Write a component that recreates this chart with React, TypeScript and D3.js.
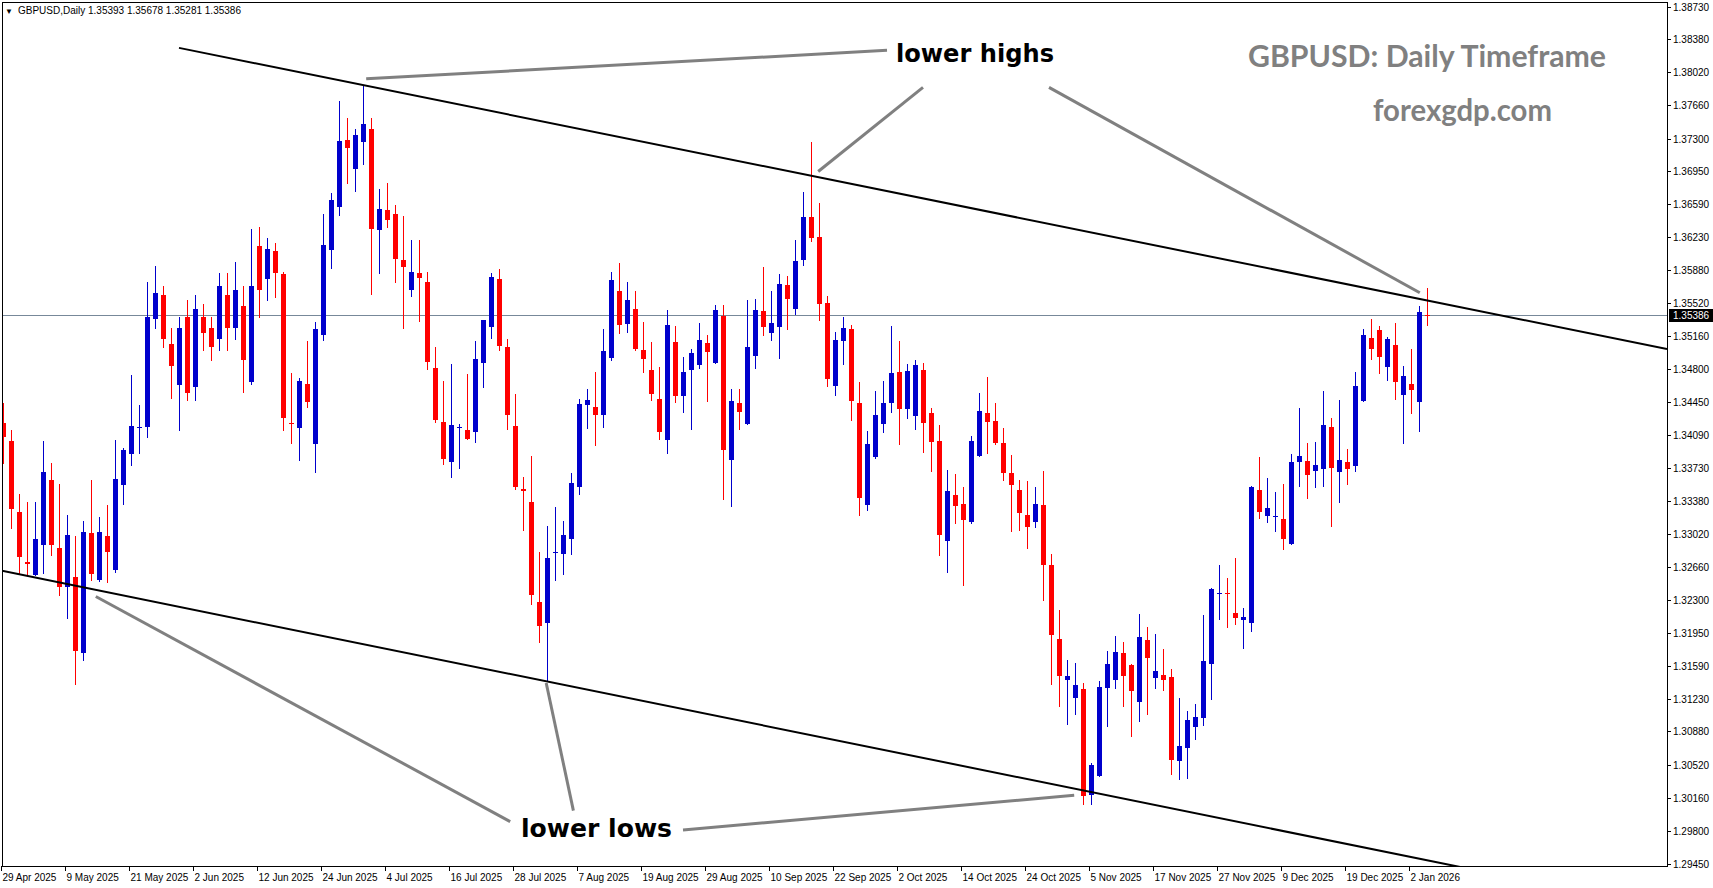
import * as d3 from "d3"

// daily GBPUSD bars, 29 Apr 2025 .. 6 Jan 2026
const opens = [
  1.3422, 1.34025, 1.33256, 1.32714, 1.32574, 1.32902, 1.33603, 1.32867, 1.32441, 1.32552,
  1.31733, 1.33029, 1.3252, 1.32996, 1.32628, 1.33552, 1.33887, 1.3417, 1.3418, 1.35346,
  1.35606, 1.35075, 1.34631, 1.35367, 1.34613, 1.35367, 1.35248, 1.35129, 1.35606, 1.35248,
  1.35487, 1.34664, 1.36136, 1.35779, 1.36082, 1.35833, 1.3422, 1.34169, 1.34642, 1.33996,
  1.35176, 1.36096, 1.36562, 1.37284, 1.36973, 1.37266, 1.37403, 1.36313, 1.36526, 1.36483,
  1.35985, 1.35663, 1.35844, 1.35747, 1.34815, 1.34231, 1.33801, 1.34171, 1.34144, 1.34126,
  1.34873, 1.35264, 1.35779, 1.35043, 1.34187, 1.33505, 1.33364, 1.32282, 1.32057, 1.32818,
  1.32805, 1.32967, 1.3353, 1.34418, 1.34393, 1.3431, 1.34924, 1.35649, 1.35292, 1.35454,
  1.3501, 1.34794, 1.3448, 1.34036, 1.35097, 1.34515, 1.34797, 1.34848, 1.35086, 1.34873,
  1.35378, 1.33822, 1.34436, 1.34212, 1.34949, 1.35432, 1.35197, 1.35262, 1.35714, 1.35457,
  1.35988, 1.3645, 1.36234, 1.35519, 1.34624, 1.35111, 1.35238, 1.34436, 1.33335, 1.33855,
  1.34212, 1.3444, 1.34772, 1.34375, 1.34299, 1.34794, 1.34328, 1.34025, 1.32945, 1.3344,
  1.33343, 1.33151, 1.33866, 1.34328, 1.34241, 1.34003, 1.33678, 1.33497, 1.33224, 1.33151,
  1.33332, 1.32682, 1.31881, 1.3144, 1.31245, 1.3134, 1.30195, 1.30401, 1.31353, 1.3144,
  1.31729, 1.31599, 1.31202, 1.3187, 1.31462, 1.31491, 1.31469, 1.30563, 1.30704, 1.30931,
  1.31029, 1.31613, 1.32374, 1.32374, 1.32162, 1.3209, 1.32057, 1.33494, 1.33216, 1.33207,
  1.3318, 1.32913, 1.33801, 1.33808, 1.33703, 1.33725, 1.34176, 1.33692, 1.33797, 1.33757,
  1.34461, 1.3514, 1.35227, 1.34829, 1.35064, 1.3452, 1.34642, 1.3445, 1.35393,
]
const highs = [
  1.34437, 1.34144, 1.33451, 1.33364, 1.33364, 1.34025, 1.33787, 1.33559, 1.33224, 1.32996,
  1.33158, 1.33603, 1.33202, 1.33332, 1.34036, 1.33949, 1.3474, 1.34415, 1.35747, 1.35925,
  1.35703, 1.35248, 1.35367, 1.35552, 1.35606, 1.35508, 1.35367, 1.35844, 1.35844, 1.35963,
  1.35703, 1.3632, 1.36342, 1.36223, 1.36169, 1.35855, 1.34762, 1.34707, 1.35108, 1.35313,
  1.36483, 1.3671, 1.37706, 1.37522, 1.37403, 1.37869, 1.37522, 1.36754, 1.36818, 1.3658,
  1.36461, 1.36201, 1.36201, 1.35855, 1.35043, 1.34675, 1.34859, 1.34209, 1.3475, 1.35108,
  1.3534, 1.35844, 1.35887, 1.35129, 1.34534, 1.33635, 1.33862, 1.32826, 1.33104, 1.3331,
  1.33158, 1.33678, 1.3448, 1.34588, 1.34772, 1.35238, 1.35855, 1.35952, 1.35747, 1.35649,
  1.35313, 1.35097, 1.34826, 1.35443, 1.3527, 1.34934, 1.35021, 1.35302, 1.35173, 1.35497,
  1.35497, 1.34588, 1.34588, 1.35552, 1.35562, 1.35909, 1.35649, 1.35833, 1.35811, 1.36201,
  1.36721, 1.37262, 1.36602, 1.35595, 1.35205, 1.35367, 1.35281, 1.34664, 1.34133, 1.34566,
  1.34678, 1.3527, 1.35111, 1.34859, 1.34902, 1.34869, 1.34382, 1.34198, 1.33711, 1.33668,
  1.33527, 1.34079, 1.34545, 1.34718, 1.34436, 1.34166, 1.33873, 1.33603, 1.33595, 1.33527,
  1.33703, 1.32801, 1.32195, 1.31653, 1.31621, 1.31408, 1.30538, 1.31426, 1.31751, 1.31913,
  1.31848, 1.31605, 1.32152, 1.32011, 1.31935, 1.31773, 1.31556, 1.31242, 1.31105, 1.3118,
  1.32141, 1.32433, 1.32682, 1.32541, 1.32758, 1.3222, 1.33541, 1.33851, 1.33627, 1.33473,
  1.33559, 1.33884, 1.34382, 1.34003, 1.34014, 1.34566, 1.34274, 1.34469, 1.33938, 1.34772,
  1.35238, 1.35346, 1.3527, 1.35151, 1.35303, 1.34837, 1.35021, 1.35487, 1.35678,
]
const lows = [
  1.33787, 1.33086, 1.32599, 1.32574, 1.3257, 1.32599, 1.32794, 1.3236, 1.32112, 1.3139,
  1.31657, 1.3252, 1.32509, 1.32502, 1.3261, 1.33343, 1.33768, 1.33898, 1.34071, 1.35248,
  1.35043, 1.34494, 1.34144, 1.34469, 1.34469, 1.3501, 1.34902, 1.3501, 1.3501, 1.35129,
  1.34555, 1.34642, 1.35367, 1.35552, 1.35584, 1.34144, 1.34003, 1.33819, 1.34396, 1.33693,
  1.35122, 1.35901, 1.36475, 1.36822, 1.36735, 1.37027, 1.3562, 1.35847, 1.36345, 1.3575,
  1.35252, 1.35598, 1.35327, 1.34808, 1.34234, 1.33779, 1.33638, 1.33736, 1.34048, 1.34017,
  1.34613, 1.35143, 1.35013, 1.34155, 1.33508, 1.33064, 1.32263, 1.31852, 1.31437, 1.32523,
  1.32588, 1.32805, 1.33454, 1.34169, 1.33985, 1.3418, 1.34902, 1.35194, 1.35205, 1.3501,
  1.34772, 1.34469, 1.34047, 1.33895, 1.3445, 1.34342, 1.34158, 1.34819, 1.34458, 1.3487,
  1.334, 1.33321, 1.34158, 1.34208, 1.34819, 1.35176, 1.35122, 1.34927, 1.35241, 1.35403,
  1.35934, 1.36194, 1.35338, 1.34624, 1.34526, 1.34862, 1.34256, 1.33227, 1.33281, 1.33844,
  1.34126, 1.34342, 1.33996, 1.34277, 1.34158, 1.33909, 1.33703, 1.32794, 1.3261, 1.3314,
  1.32466, 1.3314, 1.33866, 1.33898, 1.33996, 1.33606, 1.33054, 1.33064, 1.3287, 1.33097,
  1.32303, 1.31397, 1.31159, 1.30964, 1.31072, 1.30098, 1.30098, 1.30399, 1.30942, 1.31353,
  1.31159, 1.30834, 1.30996, 1.31072, 1.31353, 1.31332, 1.30422, 1.30368, 1.30379, 1.30801,
  1.30953, 1.31235, 1.32098, 1.32012, 1.32047, 1.31787, 1.31971, 1.33194, 1.33151, 1.33054,
  1.32859, 1.32911, 1.33541, 1.33411, 1.3353, 1.33541, 1.33108, 1.33368, 1.33562, 1.33703,
  1.3446, 1.34916, 1.34764, 1.34689, 1.34483, 1.34006, 1.34331, 1.34136, 1.35281,
]
const closes = [
  1.34068, 1.33292, 1.32773, 1.32696, 1.32964, 1.33689, 1.32902, 1.32441, 1.33007, 1.31754,
  1.33039, 1.32588, 1.33039, 1.32826, 1.33613, 1.33927, 1.34187, 1.34178, 1.35368, 1.35628,
  1.35129, 1.34837, 1.35248, 1.34548, 1.35454, 1.35194, 1.35043, 1.35703, 1.35248, 1.3566,
  1.34902, 1.35703, 1.3566, 1.36104, 1.35844, 1.34277, 1.34204, 1.34675, 1.3445, 1.35234,
  1.36147, 1.36634, 1.37273, 1.37201, 1.37338, 1.37457, 1.36324, 1.36537, 1.36421, 1.35999,
  1.35912, 1.35855, 1.35793, 1.34884, 1.34256, 1.33833, 1.34198, 1.34182, 1.3405, 1.34913,
  1.35335, 1.35801, 1.35057, 1.3431, 1.33527, 1.33489, 1.32361, 1.32025, 1.32758, 1.32828,
  1.33007, 1.3357, 1.34426, 1.34469, 1.3431, 1.35, 1.35768, 1.35281, 1.35552, 1.35021,
  1.34913, 1.34534, 1.34126, 1.35281, 1.34515, 1.34772, 1.34978, 1.35118, 1.34989, 1.35443,
  1.33927, 1.34458, 1.34342, 1.35043, 1.35443, 1.35262, 1.35303, 1.35725, 1.35566, 1.35974,
  1.3645, 1.36226, 1.35512, 1.347, 1.35118, 1.35248, 1.34461, 1.33411, 1.33992, 1.34307,
  1.34436, 1.34761, 1.34375, 1.34783, 1.34848, 1.34223, 1.34017, 1.3301, 1.33484, 1.33324,
  1.33173, 1.34025, 1.3435, 1.34234, 1.34007, 1.33682, 1.33552, 1.33248, 1.33097, 1.33343,
  1.32685, 1.31927, 1.31484, 1.3148, 1.31383, 1.30184, 1.30517, 1.31361, 1.3161, 1.3174,
  1.31484, 1.31321, 1.31903, 1.31679, 1.31534, 1.3144, 1.30574, 1.30722, 1.31004, 1.31036,
  1.31643, 1.32422, 1.32384, 1.32363, 1.32112, 1.32119, 1.3353, 1.33259, 1.33299, 1.33218,
  1.32967, 1.33797, 1.33862, 1.3366, 1.33765, 1.34198, 1.33736, 1.33819, 1.33725, 1.3462,
  1.35173, 1.35024, 1.34938, 1.35129, 1.34667, 1.34729, 1.3458, 1.35422, 1.35386,
]

const dateLabels = [
  "29 Apr 2025", "9 May 2025", "21 May 2025", "2 Jun 2025", "12 Jun 2025", "24 Jun 2025",
  "4 Jul 2025", "16 Jul 2025", "28 Jul 2025", "7 Aug 2025", "19 Aug 2025", "29 Aug 2025",
  "10 Sep 2025", "22 Sep 2025", "2 Oct 2025", "14 Oct 2025", "24 Oct 2025", "5 Nov 2025",
  "17 Nov 2025", "27 Nov 2025", "9 Dec 2025", "19 Dec 2025", "2 Jan 2026",
]
const barsPerLabel = 8

const priceTicks = [
  1.3873, 1.3838, 1.3802, 1.3766, 1.373, 1.3695, 1.3659, 1.3623, 1.3588, 1.3552,
  1.3516, 1.348, 1.3445, 1.3409, 1.3373, 1.3338, 1.3302, 1.3266, 1.323, 1.3195,
  1.3159, 1.3123, 1.3088, 1.3052, 1.3016, 1.298, 1.2945,
]
const lastPrice = 1.35386

// channel lines, [bar, price]
const channelTop = [[22, 1.38282], [200, 1.35162]]
const channelBottom = [[0, 1.32617], [180, 1.2945]]

// pointer lines for the notes, [bar, price] pairs
const highPointers = [
  [[45.4, 1.37948], [110.5, 1.38255]],
  [[115, 1.37854], [101.9, 1.36943]],
  [[130.75, 1.37854], [177.1, 1.3563]],
]
const lowPointers = [
  [[11.6, 1.32341], [63.4, 1.29904]],
  [[67.9, 1.31405], [71.3, 1.30023]],
  [[85, 1.29813], [133.9, 1.30189]],
]

export default function App() {
  const width = 1713
  const height = 888
  const plotLeft = 2
  const plotRight = 1667
  const plotTop = 2
  const plotBottom = 866

  const x = d3.scaleLinear().domain([0, 1]).range([3, 11])
  const y = d3.scaleLinear().domain([1.2945, 1.3873]).range([863.5, 6.5])

  const bars = opens.map((o, i) => ({ o, h: highs[i], l: lows[i], c: closes[i], i }))
  const blue = "#0000cc"
  const red = "#ff0000"

  const lineAt = (pts: number[][], px: number) => {
    const [a, b] = pts
    const x0 = x(a[0]), y0 = y(a[1]), x1 = x(b[0]), y1 = y(b[1])
    return y0 + ((px - x0) * (y1 - y0)) / (x1 - x0)
  }

  const axisFont = "'Liberation Sans', Tahoma, Arial, sans-serif"
  const noteFont = "'DejaVu Sans', Verdana, sans-serif"

  return (
    <svg
      width={width}
      height={height}
      style={{ position: "absolute", left: 0, top: 0, background: "#fff" }}
    >
      <defs>
        <clipPath id="plot">
          <rect x={plotLeft} y={plotTop} width={plotRight - plotLeft} height={plotBottom - plotTop} />
        </clipPath>
      </defs>

      <g clipPath="url(#plot)">
        <line
          x1={plotLeft}
          x2={plotRight}
          y1={Math.round(y(lastPrice)) + 0.5}
          y2={Math.round(y(lastPrice)) + 0.5}
          stroke="#778899"
          strokeWidth={1}
        />

        <g shapeRendering="crispEdges">
          {bars.map((d) => {
            const cx = Math.round(x(d.i))
            const up = d.c >= d.o
            const col = up ? blue : red
            const top = Math.round(y(Math.max(d.o, d.c)))
            const bot = Math.round(y(Math.min(d.o, d.c)))
            const hy = Math.round(y(d.h))
            const ly = Math.round(y(d.l))
            return (
              <g key={d.i}>
                <rect x={cx} y={hy} width={1} height={Math.max(1, ly - hy + 1)} fill={col} />
                <rect x={cx - 2} y={top} width={5} height={Math.max(1, bot - top)} fill={col} />
              </g>
            )
          })}
        </g>

        <line
          x1={x(channelTop[0][0])}
          y1={y(channelTop[0][1])}
          x2={plotRight}
          y2={lineAt(channelTop, plotRight)}
          stroke="#000"
          strokeWidth={2}
        />
        <line
          x1={plotLeft}
          y1={lineAt(channelBottom, plotLeft)}
          x2={plotRight}
          y2={lineAt(channelBottom, plotRight)}
          stroke="#000"
          strokeWidth={2}
        />

        {[...highPointers, ...lowPointers].map((p, i) => (
          <line
            key={i}
            x1={x(p[0][0])}
            y1={y(p[0][1])}
            x2={x(p[1][0])}
            y2={y(p[1][1])}
            stroke="#808080"
            strokeWidth={3}
          />
        ))}
      </g>

      {/* frame and axes */}
      <g shapeRendering="crispEdges" stroke="#000" strokeWidth={1}>
        <line x1={plotLeft + 0.5} x2={plotLeft + 0.5} y1={plotTop} y2={plotBottom} />
        <line x1={plotLeft} x2={plotRight} y1={plotTop + 0.5} y2={plotTop + 0.5} />
        <line x1={plotRight + 0.5} x2={plotRight + 0.5} y1={plotTop} y2={plotBottom + 1} />
        <line x1={plotLeft} x2={plotRight + 1} y1={plotBottom + 0.5} y2={plotBottom + 0.5} />
      </g>

      {/* price axis */}
      <g fontFamily={axisFont} fontSize={10} fill="#000">
        {priceTicks.map((p) => {
          const py = Math.round(y(p)) + 0.5
          return (
            <g key={p}>
              <line x1={plotRight} x2={plotRight + 4} y1={py} y2={py} stroke="#000" shapeRendering="crispEdges" />
              <text x={plotRight + 6} y={py} dy="0.35em">
                {p.toFixed(5)}
              </text>
            </g>
          )
        })}
        <rect
          x={plotRight + 2}
          y={Math.round(y(lastPrice)) - 6}
          width={44}
          height={13}
          fill="#000"
        />
        <text x={plotRight + 6} y={Math.round(y(lastPrice)) + 0.5} dy="0.35em" fill="#fff">
          {lastPrice.toFixed(5)}
        </text>
      </g>

      {/* time axis */}
      <g fontFamily={axisFont} fontSize={10} fill="#000">
        {dateLabels.map((lab, k) => {
          const tx = Math.round(x(k * barsPerLabel)) - 1.5
          return (
            <g key={lab}>
              <line x1={tx} x2={tx} y1={plotBottom} y2={plotBottom + 5} stroke="#000" shapeRendering="crispEdges" />
              <text x={tx + 1} y={881}>
                {lab}
              </text>
            </g>
          )
        })}
      </g>

      {/* header */}
      <g fontFamily={axisFont} fontSize={10} fill="#000">
        <text x={5} y={14} fontSize={8}>▼</text>
        <text x={18} y={14}>
          {"GBPUSD,Daily  " + [1.35393, 1.35678, 1.35281, 1.35386].map((v) => v.toFixed(5)).join(" ")}
        </text>
      </g>

      {/* notes */}
      <g fontFamily={noteFont} fontWeight="bold" fontSize={24.5} fill="#000">
        <text x={896} y={62} textLength={158} lengthAdjust="spacingAndGlyphs">
          lower highs
        </text>
        <text x={521} y={837} textLength={151} lengthAdjust="spacingAndGlyphs">
          lower lows
        </text>
      </g>

      <g fontFamily="Lato, 'Open Sans', sans-serif" fontWeight="bold" fontSize={30} fill="#808080">
        <text x={1248} y={67} textLength={358} lengthAdjust="spacingAndGlyphs">
          GBPUSD: Daily Timeframe
        </text>
        <text x={1373} y={121} textLength={179} lengthAdjust="spacingAndGlyphs">
          forexgdp.com
        </text>
      </g>
    </svg>
  )
}
